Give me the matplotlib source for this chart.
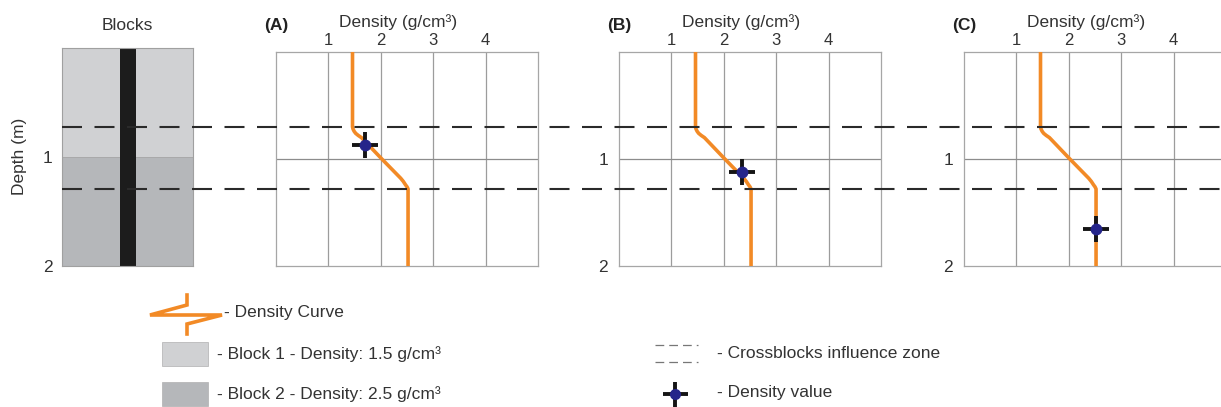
"""
Density log sketch: two blocks, and the density curve sampled at three depths.
"""

import matplotlib
matplotlib.use("Agg")
import matplotlib.pyplot as plt
from matplotlib.lines import Line2D

plt.rcParams["font.family"] = ["Liberation Sans", "DejaVu Sans"]

# ---------------------------------------------------------------------------
# DATA
# ---------------------------------------------------------------------------
block_names = ["Block 1", "Block 2"]
block_top = [0.0, 1.0]          # m
block_bottom = [1.0, 2.0]       # m
block_density = [1.5, 2.5]      # g/cm3
influence_zone = [0.70, 1.28]   # depth of the dashed lines (m)

# density curve (same curve in A, B, C)
curve_depth = [0.0, 0.70, 0.72, 0.74, 0.76, 0.78, 0.80, 1.00,
               1.18, 1.21, 1.24, 1.26, 1.28, 2.0]
curve_density = [1.46, 1.46, 1.47, 1.49, 1.52, 1.57, 1.63, 2.02,
                 2.38, 2.43, 2.47, 2.50, 2.52, 2.52]

panel_labels = ["(A)", "(B)", "(C)"]
sample_depth = [0.87, 1.12, 1.65]
sample_density = [1.70, 2.34, 2.52]

density_ticks = [1, 2, 3, 4]
depth_ticks = [1, 2]

# ---------------------------------------------------------------------------
# STYLE
# ---------------------------------------------------------------------------
ORANGE = "#f28a26"
NAVY = "#25258a"
BLOCK_COLORS = ["#d0d1d3", "#b5b7ba"]
TEXT = "#333333"
GRID = "#9c9c9c"
FS = 12.5

W, H = 1221, 407
fig = plt.figure(figsize=(W / 100, H / 100), dpi=100)


def px_box(left, top, width, height):
    """axes rect from pixel coords (origin top-left)"""
    return [left / W, (H - top - height) / H, width / W, height / H]


# ---------------------------------------------------------------------------
# BLOCKS COLUMN
# ---------------------------------------------------------------------------
axb = fig.add_axes(px_box(62, 48, 131, 218))
heights = [b - t for t, b in zip(block_top, block_bottom)]
axb.bar([0.5, 0.5], heights, bottom=block_top, width=1.0,
        color=BLOCK_COLORS, edgecolor="#a8a8a8", linewidth=0.6)
axb.bar(0.504, 2.0, bottom=0.0, width=0.122, color="#1c1c1c")
axb.set_xlim(0, 1)
axb.set_ylim(2, 0)
axb.set_xticks([])
axb.set_yticks(depth_ticks)
axb.tick_params(axis="y", length=0, pad=7, labelsize=FS, colors=TEXT)
for s in axb.spines.values():
    s.set_color("#a0a0a0")
    s.set_linewidth(0.8)
axb.text(0.5, 1.105, "Blocks", transform=axb.transAxes, ha="center",
         va="center", fontsize=FS, color=TEXT)
fig.text(20 / W, 1 - 156 / H, "Depth (m)", rotation=90, ha="center",
         va="center", fontsize=FS, color=TEXT)

# ---------------------------------------------------------------------------
# DENSITY PANELS
# ---------------------------------------------------------------------------
panel_left = [276, 619, 964]
for i, left in enumerate(panel_left):
    ax = fig.add_axes(px_box(left, 52, 262, 214))
    ax.set_xlim(0, 5)
    ax.set_ylim(2, 0)
    ax.xaxis.tick_top()
    ax.set_xticks(density_ticks)
    ax.tick_params(axis="x", length=0, pad=3, labelsize=12, colors=TEXT)
    ax.grid(axis="x", color=GRID, linewidth=0.9)
    ax.axhline(1.0, color="#8c8c8c", linewidth=0.9)
    if i == 0:
        ax.set_yticks([])
    else:
        ax.set_yticks(depth_ticks)
        ax.tick_params(axis="y", length=0, pad=8, labelsize=FS, colors=TEXT)
    for s in ax.spines.values():
        s.set_color("#a6a6a6")
        s.set_linewidth(0.9)

    ax.plot(curve_density, curve_depth, color=ORANGE, linewidth=2.6,
            solid_joinstyle="round", zorder=3)
    ax.plot(sample_density[i], sample_depth[i], marker="+", ms=19, mew=2.8,
            color="#151515", linestyle="none", zorder=4)
    ax.plot(sample_density[i], sample_depth[i], marker="o", ms=7.5,
            color=NAVY, linestyle="none", zorder=5)

    ax.text(2.33, 1.14, "Density (g/cm³)", transform=ax.get_xaxis_transform(),
            ha="center", va="center", fontsize=FS, color=TEXT)
    ax.text(0.0, 1.126, panel_labels[i], transform=ax.get_xaxis_transform(),
            ha="center", va="center", fontsize=FS, fontweight="bold",
            color="#222222")

# dashed "crossblocks influence zone" lines running across everything
axd = fig.add_axes(px_box(62, 52, W - 62, 214), zorder=10)
axd.set_ylim(2, 0)
axd.set_xlim(0, 1)
axd.patch.set_alpha(0)
axd.axis("off")
for z in influence_zone:
    axd.axhline(z, color="#2a2a2a", linewidth=1.5, linestyle=(0, (9.6, 6.0)))

# ---------------------------------------------------------------------------
# LEGEND (drawn in pixel space)
# ---------------------------------------------------------------------------
axl = fig.add_axes([0, 0, 1, 1], zorder=-1)
axl.set_xlim(0, W)
axl.set_ylim(H, 0)
axl.axis("off")

# orange zig icon
zig_x = [187, 187, 150, 222, 187, 187]
zig_y = [295, 305, 315, 315, 324, 334]
axl.add_line(Line2D(zig_x, zig_y, color=ORANGE, linewidth=2.6,
                    solid_joinstyle="miter"))
axl.text(224, 313, "- Density Curve", ha="left", va="center",
         fontsize=FS, color=TEXT)

for k, (name, dens) in enumerate(zip(block_names, block_density)):
    yc = 354 + 40 * k
    axl.add_patch(plt.Rectangle((162, yc - 12), 46, 24,
                                facecolor=BLOCK_COLORS[k],
                                edgecolor="#b0b0b0", linewidth=0.5))
    axl.text(217, yc, f"- {name} - Density: {dens} g/cm³", ha="left",
             va="center", fontsize=FS, color=TEXT)

# dashed icon
for yy in (345, 362):
    axl.add_line(Line2D([655, 698], [yy, yy], color="#777777", linewidth=0.9,
                        linestyle=(0, (7, 4))))
axl.text(717, 353, "- Crossblocks influence zone", ha="left", va="center",
         fontsize=FS, color=TEXT)

# density value icon
axl.plot(675, 394, marker="+", ms=18, mew=2.8, color="#151515")
axl.plot(675, 394, marker="o", ms=7, color=NAVY)
axl.text(717, 393, "- Density value", ha="left", va="center",
         fontsize=FS, color=TEXT)

fig.savefig("out.png", dpi=100)
